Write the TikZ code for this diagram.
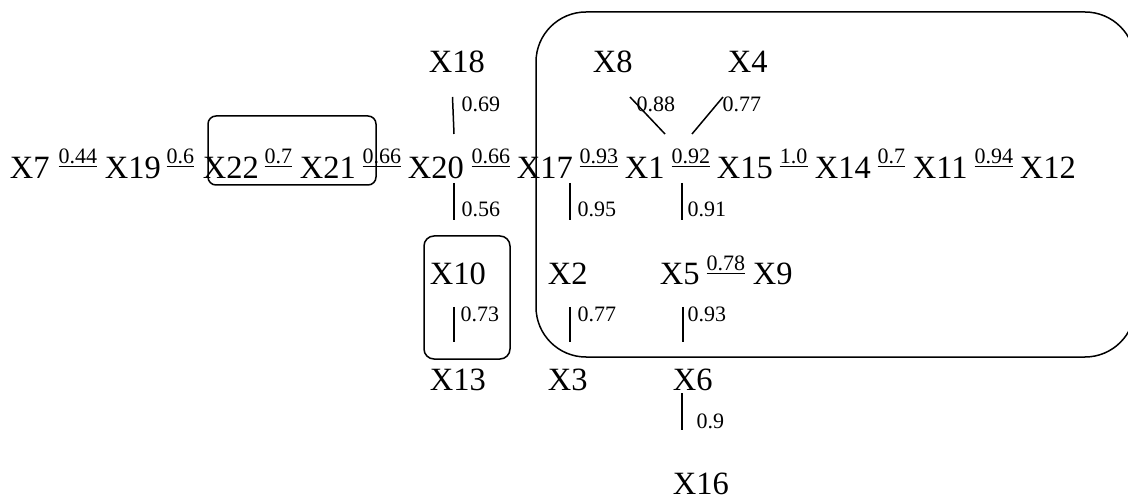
\documentclass[tikz,border=0pt]{standalone}
\usepackage{fontspec}
\setmainfont{Liberation Serif}
\newcommand\mainfnt{\fontsize{32.5}{39}\selectfont}
\newcommand\lblfnt{\fontsize{22}{26}\selectfont}
\begin{document}
\begin{tikzpicture}[x=1pt,y=-1pt,
  var/.style={font=\mainfnt, inner sep=0pt, anchor=base west},
  wt/.style={font=\lblfnt, inner sep=0pt, anchor=base west},
  edge/.style={line width=1.5pt},
  uline/.style={line width=0.9pt},
  grp/.style={line width=1.5pt}]
\useasboundingbox (0,0) rectangle (1128,497);
\clip (0,0) rectangle (1128,497);
% main row
\node[var] (X7)  at (9.7,178.5) {X7};
\node[wt]  (w1)  at (58.5,164) {0.44};
\node[var] (X19) at (104.7,178.5) {X19};
\node[wt]  (w2)  at (166.5,164) {0.6};
\node[var] (X22) at (202.7,178.5) {X22};
\node[wt]  (w3)  at (264.5,164) {0.7};
\node[var] (X21) at (299.7,178.5) {X21};
\node[wt]  (w4)  at (362.5,164) {0.66};
\node[var] (X20) at (407.7,178.5) {X20};
\node[wt]  (w5)  at (471.5,164) {0.66};
\node[var] (X17) at (516.7,178.5) {X17};
\node[wt]  (w6)  at (579.5,164) {0.93};
\node[var] (X1)  at (624.7,178.5) {X1};
\node[wt]  (w7)  at (671.5,164) {0.92};
\node[var] (X15) at (716.7,178.5) {X15};
\node[wt]  (w8)  at (779.6,164) {1.0};
\node[var] (X14) at (814.7,178.5) {X14};
\node[wt]  (w9)  at (877.5,164) {0.7};
\node[var] (X11) at (912.7,178.5) {X11};
\node[wt]  (w10) at (974.5,164) {0.94};
\node[var] (X12) at (1019.7,178.5) {X12};
% other rows
\node[var] (X18) at (428.7,73) {X18};
\node[var] (X8)  at (592.7,73) {X8};
\node[var] (X4)  at (727.7,73) {X4};
\node[var] (X10) at (429.7,285) {X10};
\node[var] (X2)  at (547.7,285) {X2};
\node[var] (X5)  at (659.7,285) {X5};
\node[wt]  (w11) at (706.5,270.5) {0.78};
\node[var] (X9)  at (752.7,285) {X9};
\node[var] (X13) at (429.7,390) {X13};
\node[var] (X3)  at (547.7,390) {X3};
\node[var] (X6)  at (672.7,390) {X6};
\node[var] (X16) at (672.7,494) {X16};
% underlines of the weights in rows
\foreach \w in {w1,w2,w3,w4,w5,w6,w7,w8,w9,w10,w11}
  \draw[uline] ([yshift=-2.7pt]\w.base west) -- ([yshift=-2.7pt]\w.base east);
% edge end points
\coordinate (a1) at (452.5,97);  \coordinate (b1) at (454,134);
\coordinate (a2) at (454,183);   \coordinate (b2) at (454,220);
\coordinate (a3) at (454,307);   \coordinate (b3) at (454,342);
\coordinate (a4) at (570,183);   \coordinate (b4) at (570,220);
\coordinate (a5) at (570,307);   \coordinate (b5) at (570,342);
\coordinate (a6) at (682,183);   \coordinate (b6) at (682,220);
\coordinate (a7) at (683,307);   \coordinate (b7) at (683,342);
\coordinate (a8) at (682,393);   \coordinate (b8) at (682,430);
\coordinate (a9) at (630,97);    \coordinate (b9) at (665,134);
\coordinate (a10) at (723,97);   \coordinate (b10) at (692,134);
\foreach \i in {1,...,10} \draw[edge] (a\i) -- (b\i);
% edge weights
\node[wt] (v1)  at (461.5,112) {0.69};
\node[wt] (v2)  at (461.5,217) {0.56};
\node[wt] (v3)  at (460.5,322) {0.73};
\node[wt] (v4)  at (577.5,217) {0.95};
\node[wt] (v5)  at (577.5,322) {0.77};
\node[wt] (v6)  at (687.5,217) {0.91};
\node[wt] (v7)  at (687.5,322) {0.93};
\node[wt] (v8)  at (696.5,428) {0.9};
\node[wt] (v9)  at (636.5,112) {0.88};
\node[wt] (v10) at (722.5,112) {0.77};
% groups
\draw[grp, rounded corners=8pt] (208,116) rectangle (376,185);
\draw[grp, rounded corners=10pt] (424,236) rectangle (510,359);
\draw[grp, rounded corners=50pt] (536,12) rectangle (1135,357);
\end{tikzpicture}
\end{document}
